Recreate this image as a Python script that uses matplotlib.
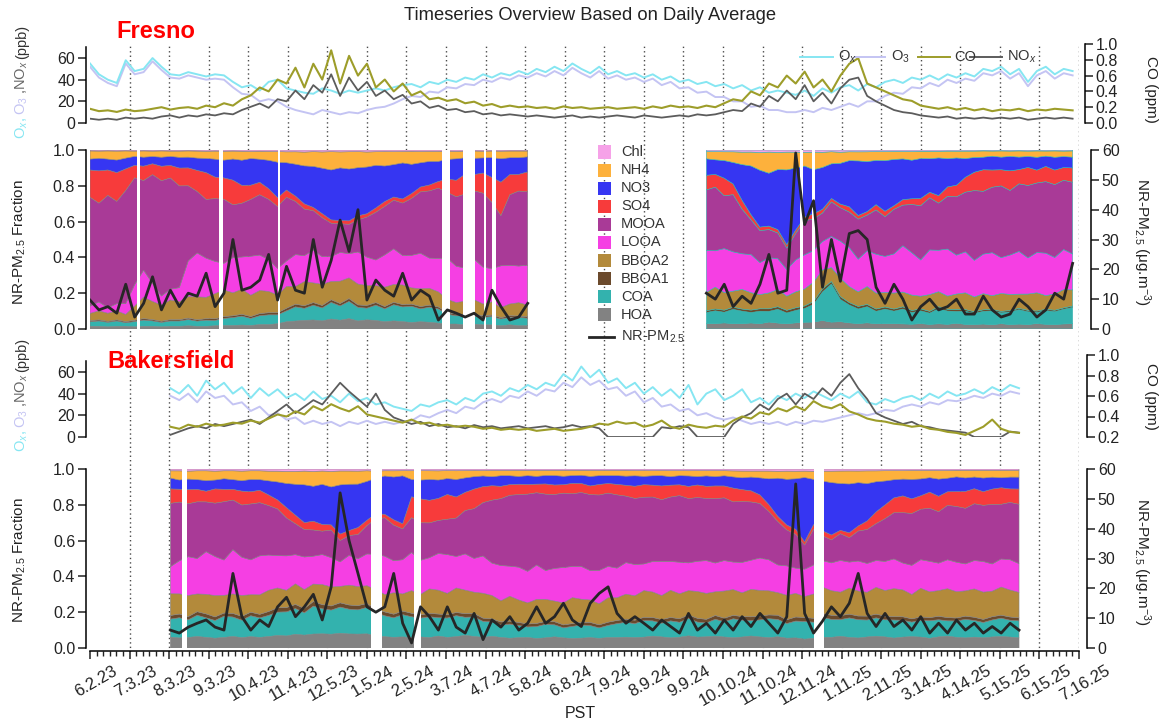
import numpy as np
import matplotlib
matplotlib.use("Agg")
import matplotlib.pyplot as plt
import matplotlib.dates as mdates
from matplotlib.patches import Rectangle
from matplotlib.lines import Line2D
from matplotlib.ticker import FormatStrFormatter
from matplotlib.transforms import ScaledTranslation
import datetime as dt

plt.rcParams['font.family'] = ['Liberation Sans', 'DejaVu Sans']
plt.rcParams['mathtext.fontset'] = 'custom'
plt.rcParams['mathtext.rm'] = 'Liberation Sans'
plt.rcParams['mathtext.it'] = 'Liberation Sans:italic'
plt.rcParams['mathtext.bf'] = 'Liberation Sans:bold'

nan = np.nan
N = 111                      # weekly samples, 2023-06-02 ... 2025-07-11
start_date = '2023-06-02'
end_date = '2025-07-16'

tick_labels = ['6.2.23', '7.3.23', '8.3.23', '9.3.23', '10.4.23', '11.4.23', '12.5.23',
               '1.5.24', '2.5.24', '3.7.24', '4.7.24', '5.8.24', '6.8.24', '7.9.24',
               '8.9.24', '9.9.24', '10.10.24', '11.10.24', '12.11.24', '1.11.25',
               '2.11.25', '3.14.25', '4.14.25', '5.15.25', '6.15.25', '7.16.25']

species = ['HOA', 'COA', 'BBOA1', 'BBOA2', 'LOOA', 'MOOA', 'SO4', 'NO3', 'NH4', 'Chl']

# ---------------- Fresno gases (weekly, k=0..110) ----------------
fresno_ox = [55, 45, 40, 37, 58, 48, 50, 60, 52, 45,
             44, 47, 45, 43, 45, 44, 38, 33, 35, 30,
             38, 40, 32, 30, 28, 27, 32, 30, 27, 30,
             28, 30, 32, 30, 33, 35, 36, 33, 38, 36,
             40, 38, 42, 40, 45, 42, 46, 44, 48, 45,
             50, 47, 52, 48, 55, 50, 46, 52, 45, 48,
             44, 46, 42, 45, 40, 43, 38, 40, 36, 38,
             34, 36, 32, 35, 30, 33, 28, 30, 28, 26,
             30, 25, 32, 28, 33, 35, 30, 36, 33, 38,
             40, 37, 42, 40, 44, 40, 45, 42, 46, 43,
             50, 48, 52, 45, 50, 38, 48, 52, 45, 50,
             48]
fresno_o3 = [52, 42, 37, 34, 55, 45, 47, 57, 49, 42,
             41, 44, 42, 40, 41, 40, 33, 27, 26, 20,
             22, 20, 15, 12, 10, 8, 12, 10, 8, 10,
             9, 12, 14, 15, 18, 22, 25, 24, 29, 28,
             33, 32, 36, 35, 40, 38, 42, 40, 44, 42,
             46, 43, 48, 44, 51, 46, 42, 48, 41, 44,
             40, 42, 38, 41, 35, 38, 32, 33, 28, 29,
             24, 24, 20, 20, 15, 16, 12, 12, 10, 10,
             12, 10, 14, 12, 15, 18, 15, 20, 20, 25,
             28, 27, 33, 32, 37, 34, 40, 37, 41, 39,
             46, 44, 48, 41, 46, 34, 44, 48, 41, 46,
             44]
fresno_co = [.18, .15, .16, .14, .17, .15, .16, .18, .2, .17,
             .19, .2, .18, .22, .2, .25, .22, .3, .35, .45,
             .4, .55, .5, .7, .45, .75, .55, .92, .5, .85,
             .6, .75, .45, .55, .4, .5, .35, .4, .3, .32,
             .28, .3, .25, .27, .22, .24, .2, .22, .2, .21,
             .19, .2, .18, .21, .19, .2, .18, .19, .2, .18,
             .19, .2, .18, .21, .19, .22, .2, .21, .19, .22,
             .2, .25, .3, .28, .4, .35, .5, .45, .6, .5,
             .65, .45, .55, .4, .6, .75, .82, .5, .45, .4,
             .35, .3, .28, .22, .2, .18, .2, .17, .19, .16,
             .18, .15, .17, .16, .18, .15, .17, .16, .18, .17,
             .16]
fresno_nox = [4, 3, 4, 3, 5, 4, 5, 4, 6, 7,
              5, 7, 6, 8, 7, 9, 8, 12, 15, 18,
              14, 22, 20, 30, 22, 35, 28, 45, 25, 42,
              30, 38, 25, 30, 22, 26, 18, 20, 14, 16,
              12, 13, 10, 11, 8, 9, 7, 8, 7, 6,
              7, 6, 5, 6, 7, 5, 6, 5, 6, 7,
              6, 5, 7, 6, 5, 6, 7, 6, 8, 7,
              8, 10, 12, 11, 18, 15, 25, 20, 30, 22,
              35, 20, 28, 18, 32, 40, 42, 25, 20, 16,
              12, 10, 9, 7, 6, 5, 6, 4, 5, 4,
              5, 4, 5, 4, 5, 3, 4, 5, 4, 5,
              4]

# ---------------- Fresno aerosol fractions: block A (k=0..49), block B (k=69..110) ----------------
fr_hoa_a = [.015, .015, .012, .015, .015, .012, .015, .015, .012, .015,
            .015, .018, .015, .015, .018, .02, .02, .022, .02, .025,
            .025, .03, .04, .045, .05, .055, .05, .06, .055, .06,
            .05, .055, .05, .045, .05, .045, .04, .045, .04, .035,
            .03, .03, .025, .03, .025, .025, .02, .025, .02, .02]
fr_coa_a = [.025, .03, .025, .03, .02, .03, .035, .03, .025, .03,
            .03, .035, .03, .035, .03, .04, .045, .05, .04, .05,
            .055, .05, .06, .08, .07, .09, .08, .1, .09, .1,
            .085, .07, .09, .08, .1, .09, .1, .08, .09, .085,
            .06, .05, .055, .05, .045, .05, .04, .045, .05, .045]
fr_bb1_a = [.006, .006, .005, .006, .006, .007, .008, .007, .006, .007,
            .007, .008, .008, .008, .009, .01, .01, .01, .01, .012,
            .012, .012, .014, .015, .015, .016, .015, .016, .015, .016,
            .015, .016, .015, .014, .015, .014, .013, .014, .012, .012,
            .01, .01, .009, .01, .009, .009, .008, .009, .008, .008]
fr_bb2_a = [.04, .05, .045, .05, .04, .08, .12, .1, .09, .11,
            .1, .12, .13, .12, .14, .15, .13, .14, .12, .13,
            .12, .1, .12, .1, .14, .12, .13, .11, .14, .12,
            .13, .12, .1, .12, .11, .12, .1, .11, .1, .09,
            .08, .07, .08, .09, .07, .08, .06, .07, .08, .07]
fr_looa_a = [.04, .05, .03, .04, .06, .12, .15, .1, .05, .06,
             .08, .2, .25, .22, .18, .15, .2, .18, .22, .2,
             .18, .15, .14, .18, .15, .2, .17, .15, .18, .14,
             .2, .17, .15, .2, .22, .18, .2, .22, .18, .2,
             .25, .22, .2, .25, .22, .2, .25, .23, .22, .24]
fr_mooa_a = [.6, .55, .62, .57, .63, .6, .5, .6, .64, .62,
             .57, .42, .35, .33, .35, .36, .3, .3, .32, .34,
             .34, .35, .35, .3, .27, .24, .24, .2, .18, .17,
             .2, .24, .28, .3, .3, .32, .35, .38, .4, .42,
             .4, .42, .45, .42, .44, .4, .3, .42, .45, .44]
fr_so4_a = [.15, .18, .14, .16, .12, .07, .08, .06, .08, .07,
            .1, .1, .12, .15, .12, .12, .14, .1, .08, .07,
            .06, .05, .04, .03, .03, .02, .025, .02, .02, .02,
            .025, .02, .025, .03, .02, .025, .03, .03, .035, .04,
            .08, .1, .12, .1, .12, .15, .2, .12, .1, .12]
fr_no3_a = [.06, .07, .06, .07, .06, .05, .05, .04, .05, .05,
            .06, .06, .07, .08, .1, .1, .12, .14, .15, .13,
            .16, .2, .15, .18, .22, .25, .28, .3, .33, .3,
            .3, .28, .25, .22, .2, .22, .18, .15, .14, .12,
            .12, .13, .1, .1, .09, .12, .14, .1, .1, .09]
fr_nh4_a = [.045, .04, .045, .05, .04, .03, .035, .03, .035, .03,
            .035, .035, .04, .04, .045, .05, .045, .05, .04, .045,
            .05, .06, .06, .07, .08, .09, .1, .11, .1, .1,
            .1, .09, .08, .09, .08, .07, .08, .07, .06, .06,
            .05, .045, .04, .045, .04, .04, .045, .04, .04, .035]
fr_chl_a = [.005, .006, .005, .006, .005, .006, .005, .006, .005, .006,
            .006, .005, .006, .007, .006, .007, .006, .007, .008, .007,
            .008, .009, .01, .01, .012, .01, .012, .01, .012, .01,
            .01, .012, .01, .009, .01, .009, .008, .009, .008, .008,
            .007, .008, .007, .006, .007, .006, .007, .006, .006, .006]

fr_hoa_b = [.03, .03, .035, .03, .03, .035, .03, .04, .035, .03,
            .035, .04, .04, .045, .04, .04, .035, .03, .035, .03,
            .03, .03, .028, .025, .03, .025, .028, .025, .03, .025,
            .025, .028, .025, .03, .025, .028, .025, .03, .028, .025,
            .028, .03]
fr_coa_b = [.06, .07, .06, .08, .07, .06, .07, .06, .08, .06,
            .07, .08, .1, .15, .22, .12, .1, .08, .09, .07,
            .08, .07, .08, .06, .07, .06, .08, .07, .06, .07,
            .06, .07, .08, .06, .07, .08, .07, .06, .08, .07,
            .08, .09]
fr_bb1_b = [.01, .01, .012, .012, .012, .014, .014, .015, .015, .015,
            .015, .015, .016, .016, .015, .015, .014, .014, .013, .013,
            .012, .012, .012, .011, .011, .01, .01, .01, .01, .009,
            .009, .009, .008, .008, .008, .008, .008, .008, .008, .008,
            .008, .008]
fr_bb2_b = [.1, .12, .1, .09, .11, .1, .08, .09, .1, .08,
            .09, .1, .11, .1, .08, .1, .09, .08, .1, .09,
            .08, .09, .08, .08, .07, .09, .08, .07, .08, .09,
            .08, .09, .08, .1, .09, .08, .09, .1, .08, .09,
            .1, .09]
fr_looa_b = [.23, .2, .25, .22, .2, .22, .18, .2, .18, .15,
             .18, .2, .18, .15, .18, .2, .22, .18, .2, .22,
             .2, .22, .25, .22, .2, .24, .22, .25, .2, .22,
             .2, .22, .25, .2, .22, .24, .2, .22, .25, .2,
             .22, .2]
fr_mooa_b = [.33, .35, .3, .32, .25, .2, .18, .16, .15, .12,
             .15, .2, .18, .15, .2, .18, .2, .22, .2, .25,
             .22, .25, .22, .25, .3, .28, .25, .28, .3, .32,
             .38, .35, .38, .4, .36, .38, .4, .38, .42, .4,
             .38, .4]
fr_so4_b = [.08, .07, .1, .06, .05, .03, .02, .02, .02, .02,
            .02, .02, .03, .02, .02, .02, .03, .02, .02, .03,
            .03, .02, .03, .03, .04, .03, .04, .05, .06, .08,
            .1, .12, .1, .09, .11, .08, .1, .07, .09, .08,
            .07, .08]
fr_no3_b = [.09, .08, .1, .12, .2, .28, .32, .3, .35, .42,
            .35, .3, .25, .22, .2, .22, .26, .3, .28, .25,
            .28, .26, .22, .2, .22, .18, .2, .15, .14, .1,
            .08, .07, .08, .07, .08, .07, .06, .07, .06, .07,
            .06, .06]
fr_nh4_b = [.04, .045, .05, .06, .07, .08, .1, .12, .1, .1,
            .09, .08, .1, .08, .07, .06, .05, .05, .055, .05,
            .05, .045, .04, .045, .04, .04, .035, .04, .035, .04,
            .035, .035, .03, .035, .03, .035, .03, .035, .03, .035,
            .03, .035]
fr_chl_b = [.008, .009, .01, .01, .012, .012, .014, .012, .014, .012,
            .012, .014, .012, .012, .01, .012, .01, .01, .01, .009,
            .009, .008, .008, .008, .007, .007, .007, .006, .006, .006,
            .006, .005, .006, .005, .006, .005, .006, .005, .006, .005,
            .006, .005]

fr_pm_a = [9.7, 6.4, 7.5, 5.3, 15, 4, 8.6, 17.5, 6.4, 13,
           7.5, 12, 11, 18.7, 7.5, 12, 30, 13, 14, 16.4,
           25, 9.7, 21, 13, 12, 30, 14, 23, 36.5, 26,
           40, 9.7, 16.4, 13, 11, 18.7, 9.7, 13, 11, 3,
           6.4, 5.3, 4, 5.3, 3, 13, 7.5, 3, 4, 8.6]
fr_pm_b = [12, 10, 15, 7.5, 11, 8.6, 15, 25, 12, 13,
           59, 35, 43, 14, 30, 16, 32, 33, 30, 14,
           8.6, 15, 10, 3, 7.5, 10, 6.4, 7.5, 10, 5,
           5, 11, 6.4, 4, 5, 10, 7.5, 4, 6.4, 12,
           10, 22]

fresno_gaps = [('2023-07-09', '2023-07-11'), ('2023-09-11', '2023-09-14'),
               ('2023-10-27', '2023-10-29'), ('2024-03-04', '2024-03-10'),
               ('2024-03-20', '2024-03-30'), ('2024-04-06', '2024-04-07'),
               ('2024-04-12', '2024-04-15'), ('2024-12-09', '2024-12-12'),
               ('2024-12-19', '2024-12-21')]

# ---------------- Bakersfield (k=9..104) ----------------
bk_ox = [45, 40, 48, 38, 52, 44, 50, 40, 46, 36,
         45, 38, 44, 36, 40, 34, 42, 35, 38, 32,
         40, 33, 36, 30, 32, 28, 26, 24, 30, 28,
         32, 34, 30, 36, 33, 40, 42, 38, 45, 42,
         48, 44, 50, 47, 58, 52, 65, 55, 62, 50,
         54, 45, 50, 40, 46, 38, 44, 36, 48, 30,
         40, 44, 34, 38, 44, 32, 36, 30, 38, 34,
         40, 36, 42, 38, 34, 40, 36, 42, 32, 30,
         35, 32, 36, 38, 34, 40, 36, 42, 38, 40,
         44, 40, 46, 42, 48, 45]
bk_o3 = [38, 34, 40, 32, 42, 36, 38, 30, 32, 24,
         28, 20, 22, 16, 18, 12, 15, 12, 14, 10,
         14, 12, 15, 12, 14, 12, 14, 15, 20, 18,
         22, 25, 22, 28, 26, 32, 35, 32, 38, 36,
         42, 38, 44, 42, 50, 46, 55, 48, 52, 44,
         46, 38, 42, 32, 36, 28, 30, 24, 26, 20,
         22, 18, 16, 18, 15, 12, 14, 12, 14, 11,
         14, 12, 15, 14, 16, 18, 20, 22, 20, 22,
         25, 24, 28, 30, 28, 32, 30, 34, 33, 35,
         38, 36, 40, 38, 42, 40]
bk_nox = [2, 5, 8, 10, 8, 12, 10, 12, 14, 16,
          12, 18, 24, 30, 22, 28, 34, 30, 40, 50,
          42, 35, 28, 40, 25, 18, 15, 12, 14, 10,
          12, 9, 10, 8, 11, 9, 10, 8, 9, 10,
          8, 9, 10, 8, 9, 11, 9, 10, 8, 0,
          0, 0, 0, 0, 0, 9, 8, 10, 9, 0,
          0, 0, 0, 12, 18, 22, 30, 25, 35, 40,
          30, 40, 35, 45, 38, 50, 58, 45, 35, 22,
          18, 15, 12, 14, 10, 9, 7, 6, 5, 4,
          0, 0, 0, 0, 5, 4]
bk_co = [.3, .28, .32, .3, .33, .31, .32, .34, .33, .36,
         .34, .38, .42, .4, .45, .42, .5, .46, .52, .48,
         .45, .5, .42, .4, .38, .36, .34, .37, .33, .34,
         .31, .32, .3, .31, .3, .28, .29, .27, .28, .27,
         .28, .26, .27, .28, .26, .27, .28, .3, .33, .32,
         .35, .33, .34, .3, .32, .36, .3, .28, .32, .3,
         .29, .31, .3, .36, .4, .38, .44, .42, .48, .45,
         .5, .46, .55, .5, .48, .52, .45, .42, .38, .36,
         .35, .33, .32, .3, .31, .28, .27, .25, .24, .22,
         .26, .3, .37, .28, .25, .24]

bk_hoa = [.06, .055, .06, .065, .06, .055, .06, .065, .06, .065,
          .06, .065, .07, .07, .08, .075, .08, .085, .08, .09,
          .085, .08, .08, .07, .065, .06, .065, .06, .065, .06,
          .065, .06, .065, .07, .065, .06, .065, .06, .055, .06,
          .06, .055, .06, .065, .06, .055, .06, .06, .055, .06,
          .06, .065, .06, .065, .07, .065, .06, .065, .07, .065,
          .065, .07, .065, .06, .065, .07, .065, .06, .065, .06,
          .06, .055, .06, .065, .065, .07, .065, .06, .065, .07,
          .065, .06, .065, .07, .065, .06, .065, .07, .065, .06,
          .065, .06, .065, .07, .065, .06]
bk_coa = [.1, .11, .1, .12, .11, .1, .12, .11, .1, .12,
          .11, .12, .13, .14, .15, .13, .16, .15, .14, .16,
          .15, .14, .15, .13, .12, .11, .13, .12, .11, .12,
          .1, .11, .12, .1, .11, .09, .08, .07, .08, .07,
          .06, .07, .08, .07, .06, .07, .08, .07, .06, .07,
          .08, .09, .08, .1, .09, .08, .1, .09, .1, .09,
          .08, .1, .09, .11, .1, .09, .1, .11, .1, .09,
          .1, .11, .1, .12, .11, .1, .12, .11, .1, .11,
          .1, .11, .1, .09, .1, .11, .1, .09, .1, .11,
          .1, .09, .1, .11, .1, .1]
bk_bb1 = [.02, .02, .018, .02, .022, .02, .018, .02, .022, .02,
          .02, .022, .024, .025, .024, .025, .026, .025, .024, .026,
          .025, .024, .022, .02, .022, .02, .021, .02, .019, .02,
          .02, .019, .018, .02, .019, .018, .017, .018, .017, .018,
          .017, .018, .017, .018, .017, .016, .017, .018, .017, .018,
          .018, .019, .02, .019, .02, .021, .02, .021, .02, .022,
          .021, .022, .021, .02, .021, .022, .023, .022, .024, .023,
          .024, .025, .024, .023, .025, .024, .023, .022, .023, .022,
          .021, .02, .021, .02, .02, .019, .02, .019, .018, .019,
          .019, .018, .019, .018, .019, .018]
bk_bb2 = [.12, .11, .12, .1, .11, .12, .1, .11, .12, .1,
          .11, .12, .11, .1, .12, .11, .1, .12, .11, .1,
          .12, .11, .1, .11, .1, .12, .1, .13, .12, .14,
          .13, .12, .14, .13, .12, .14, .13, .12, .14, .13,
          .12, .14, .13, .12, .13, .15, .14, .13, .12, .14,
          .13, .15, .14, .16, .15, .14, .16, .15, .14, .16,
          .15, .14, .16, .15, .14, .16, .15, .14, .13, .15,
          .14, .13, .15, .16, .15, .14, .16, .15, .14, .16,
          .15, .17, .16, .15, .17, .16, .15, .17, .16, .15,
          .17, .16, .15, .17, .16, .15]
bk_looa = [.15, .18, .22, .2, .24, .22, .2, .25, .22, .2,
           .22, .2, .18, .2, .17, .19, .16, .18, .17, .15,
           .18, .16, .18, .2, .22, .18, .2, .22, .2, .18,
           .2, .22, .18, .2, .19, .21, .18, .2, .17, .19,
           .18, .2, .17, .19, .21, .18, .2, .17, .19, .18,
           .17, .19, .18, .16, .18, .2, .17, .19, .16, .18,
           .19, .17, .18, .16, .18, .17, .19, .18, .16, .18,
           .15, .17, .18, .16, .17, .19, .16, .18, .17, .16,
           .17, .18, .16, .18, .17, .19, .16, .17, .18, .16,
           .17, .18, .16, .17, .18, .17]
bk_mooa = [.35, .32, .3, .32, .28, .3, .33, .28, .3, .32,
           .3, .28, .26, .22, .18, .16, .15, .14, .16, .13,
           .12, .14, .16, .2, .22, .2, .18, .2, .22, .2,
           .18, .2, .22, .24, .28, .3, .35, .38, .4, .42,
           .44, .42, .45, .43, .44, .42, .45, .44, .43, .42,
           .42, .4, .38, .4, .38, .36, .38, .4, .37, .38,
           .36, .38, .37, .35, .36, .34, .32, .28, .25, .22,
           .2, .15, .22, .15, .14, .16, .15, .18, .2, .22,
           .25, .28, .3, .32, .3, .33, .3, .32, .34, .33,
           .34, .33, .35, .33, .34, .35]
bk_so4 = [.08, .07, .08, .07, .06, .08, .07, .06, .08, .07,
          .07, .06, .05, .06, .05, .04, .05, .04, .03, .04,
          .03, .04, .03, .03, .02, .03, .03, .12, .14, .13,
          .12, .14, .12, .1, .11, .09, .08, .07, .06, .06,
          .055, .05, .06, .055, .05, .06, .055, .05, .06, .055,
          .06, .065, .07, .075, .07, .08, .07, .065, .07, .075,
          .07, .075, .07, .08, .07, .065, .05, .04, .03, .03,
          .03, .02, .03, .03, .03, .02, .03, .03, .05, .07,
          .08, .09, .1, .09, .08, .1, .09, .08, .09, .1,
          .09, .08, .09, .1, .08, .09]
bk_no3 = [.06, .05, .06, .055, .06, .05, .06, .055, .06, .07,
          .06, .08, .1, .14, .18, .22, .2, .24, .22, .3,
          .28, .25, .22, .2, .22, .24, .28, .1, .11, .12,
          .1, .09, .1, .08, .07, .06, .05, .06, .05, .045,
          .05, .045, .05, .055, .05, .045, .05, .055, .05, .045,
          .05, .055, .06, .05, .055, .06, .05, .055, .06, .05,
          .06, .055, .06, .065, .07, .08, .1, .15, .22, .28,
          .3, .4, .28, .3, .32, .28, .3, .26, .22, .18,
          .14, .11, .1, .12, .1, .09, .1, .08, .09, .08,
          .07, .08, .07, .06, .07, .07]
bk_nh4 = [.04, .05, .045, .05, .055, .05, .045, .05, .055, .05,
          .05, .055, .06, .07, .075, .08, .085, .08, .09, .085,
          .08, .075, .06, .04, .03, .035, .03, .05, .055, .05,
          .05, .045, .05, .04, .035, .03, .035, .03, .03, .035,
          .03, .035, .03, .03, .035, .03, .03, .035, .03, .03,
          .03, .035, .03, .035, .03, .03, .035, .03, .03, .035,
          .03, .035, .03, .035, .04, .035, .04, .045, .04, .05,
          .045, .04, .05, .06, .07, .075, .08, .07, .075, .065,
          .06, .055, .05, .055, .05, .045, .05, .045, .04, .045,
          .04, .045, .04, .045, .04, .04]
bk_chl = [.01, .01, .012, .01, .01, .012, .01, .01, .012, .01,
          .01, .012, .012, .014, .014, .012, .014, .012, .014, .012,
          .012, .012, .01, .012, .01, .01, .01, .01, .01, .01,
          .01, .009, .01, .009, .008, .009, .008, .008, .008, .008,
          .008, .008, .008, .008, .008, .008, .008, .008, .008, .008,
          .008, .008, .009, .009, .01, .009, .01, .01, .01, .01,
          .01, .01, .01, .011, .012, .012, .012, .012, .013, .013,
          .013, .013, .014, .013, .013, .012, .012, .012, .011, .011,
          .01, .01, .01, .009, .009, .009, .009, .009, .008, .008,
          .008, .008, .008, .008, .008, .008]
bk_pm = [6, 5, 7, 8.3, 9.4, 7, 6, 25, 10.5, 6,
         9.4, 7.2, 13.8, 17, 10.5, 13.8, 18, 9.4, 20.5, 52,
         36, 25, 13.8, 12, 13.8, 25, 8.3, 1.7, 13.8, 10.5,
         6, 13.8, 7, 5, 11.6, 2.8, 9.4, 7, 10.5, 6,
         8.3, 13.8, 8.3, 10.5, 15, 9.4, 7.2, 15, 18.3, 20.5,
         11.6, 8.3, 10.5, 8.3, 6, 9.4, 7.2, 5, 11.6, 6,
         8.3, 5, 9.4, 6, 10.5, 7.2, 11.6, 8.3, 5, 10.5,
         55, 11.6, 5, 9, 13.8, 10.5, 15, 25, 11.6, 7.2,
         11.6, 7.2, 9.4, 6, 10.5, 5, 8.3, 5, 9.4, 6,
         8.3, 5, 7.2, 5, 8.3, 6]

bk_gaps = [('2023-08-13', '2023-08-17'), ('2024-01-08', '2024-01-17'),
           ('2024-02-11', '2024-02-16'), ('2024-12-20', '2024-12-28')]

# ---------------- helpers to place data on the weekly grid ----------------
def fresno_series(a, b):
    assert len(a) == 50 and len(b) == 42, (len(a), len(b))
    return np.array(list(a) + [nan] * 19 + list(b), dtype=float)


def bk_series(v):
    assert len(v) == 96, len(v)
    return np.array([nan] * 9 + list(v) + [nan] * 6, dtype=float)


def full(v):
    assert len(v) == N, len(v)
    return np.array(v, dtype=float)


fr_frac = np.array([fresno_series(fr_hoa_a, fr_hoa_b), fresno_series(fr_coa_a, fr_coa_b),
                    fresno_series(fr_bb1_a, fr_bb1_b), fresno_series(fr_bb2_a, fr_bb2_b),
                    fresno_series(fr_looa_a, fr_looa_b), fresno_series(fr_mooa_a, fr_mooa_b),
                    fresno_series(fr_so4_a, fr_so4_b), fresno_series(fr_no3_a, fr_no3_b),
                    fresno_series(fr_nh4_a, fr_nh4_b), fresno_series(fr_chl_a, fr_chl_b)])
bk_frac = np.array([bk_series(v) for v in
                    [bk_hoa, bk_coa, bk_bb1, bk_bb2, bk_looa, bk_mooa, bk_so4, bk_no3, bk_nh4, bk_chl]])
fr_frac = fr_frac / fr_frac.sum(axis=0)
bk_frac = bk_frac / bk_frac.sum(axis=0)

weeks = np.datetime64(start_date) + np.arange(N) * np.timedelta64(7, 'D')
x = mdates.date2num(weeks)
xmin = mdates.date2num(np.datetime64(start_date))
xmax = mdates.date2num(np.datetime64(end_date))


def parse_tick(s):
    m, d, y = (int(p) for p in s.split('.'))
    return mdates.date2num(dt.date(2000 + y, m, d))


tick_pos = np.array([parse_tick(s) for s in tick_labels])
minor_pos = np.concatenate([np.linspace(a, b, 7)[1:-1] for a, b in zip(tick_pos[:-1], tick_pos[1:])])

# ---------------- styling ----------------
C_OX, C_O3, C_CO, C_NOX = '#86e6f2', '#c4c4f3', '#9d9d2a', '#5c5c5c'
SPEC_COL = ['#828282', '#33b2ae', '#6b4a2c', '#b38a3b', '#f53fe3', '#a93a97',
            '#f73b3b', '#3636f2', '#fdb13c', '#f6a2e8']
PM_COL = '#262626'

W, H = 1162, 727
fig = plt.figure(figsize=(W / 100, H / 100), dpi=100)


def pt(px):
    return px * 72.0 / 100.0


def px_axes(x0, y0, x1, y1):
    return fig.add_axes([x0 / W, 1 - y1 / H, (x1 - x0) / W, (y1 - y0) / H])


X0, X1 = 90, 1079

# dotted guide lines behind everything
bg = px_axes(X0, 45, X1, 652)
bg.set_zorder(-5)
bg.set_xlim(xmin, xmax)
bg.set_ylim(0, 1)
bg.axis('off')
for t in tick_pos[1:]:
    bg.axvline(t, color='#4a4a4a', lw=1.0, ls=(0, (1, 2.2)))


def style_left(ax, bounds, ticks, fmt, offset=4):
    for s in ['top', 'right', 'bottom']:
        ax.spines[s].set_visible(False)
    ax.spines['left'].set_position(('outward', pt(offset)))
    ax.spines['left'].set_bounds(*bounds)
    ax.spines['left'].set_linewidth(1.1)
    ax.set_yticks(ticks)
    ax.yaxis.set_major_formatter(FormatStrFormatter(fmt))
    ax.tick_params(axis='y', direction='out', length=pt(8), width=1.1, labelsize=11.5, pad=2,
                   colors='#222222')
    ax.tick_params(axis='x', bottom=False, labelbottom=False)
    ax.set_facecolor('none')


def style_right(ax, bounds, ticks, fmt, offset):
    for s in ['top', 'left', 'bottom']:
        ax.spines[s].set_visible(False)
    ax.spines['right'].set_position(('outward', pt(offset)))
    ax.spines['right'].set_bounds(*bounds)
    ax.spines['right'].set_linewidth(1.1)
    ax.set_yticks(ticks)
    ax.yaxis.set_major_formatter(FormatStrFormatter(fmt))
    ax.tick_params(axis='y', direction='out', length=pt(8), width=1.1, labelsize=11.5, pad=2,
                   colors='#222222')
    ax.tick_params(axis='x', bottom=False, labelbottom=False)
    ax.set_facecolor('none')


def gas_panel(y0, y1, ylim_l, ylim_r, ox, o3, co, nox, r_bounds, r_ticks, r_off):
    ax = px_axes(X0, y0, X1, y1)
    ax.set_xlim(xmin, xmax)
    ax.set_ylim(*ylim_l)
    ax.plot(x, o3, color=C_O3, lw=1.4)
    ax.plot(x, ox, color=C_OX, lw=1.4)
    ax.plot(x, nox, color=C_NOX, lw=1.3)
    style_left(ax, (0, 70), [0, 20, 40, 60], '%d')
    axr = ax.twinx()
    axr.set_xlim(xmin, xmax)
    axr.set_ylim(*ylim_r)
    axr.plot(x, co, color=C_CO, lw=1.5)
    style_right(axr, r_bounds, r_ticks, '%.1f', r_off)
    return ax, axr


def frac_panel(y0, y1, frac, pm, gaps, r_off, bottom=False):
    ax = px_axes(X0, y0, X1, y1)
    ax.set_xlim(xmin, xmax)
    ax.set_ylim(0, 1)
    ax.stackplot(x, frac, colors=SPEC_COL, linewidth=0.4, edgecolors=SPEC_COL)
    for a, b in gaps:
        ax.axvspan(mdates.date2num(np.datetime64(a)), mdates.date2num(np.datetime64(b)),
                   color='white', lw=0, zorder=3)
    style_left(ax, (0, 1), [0, .2, .4, .6, .8, 1.0], '%.1f')
    axr = ax.twinx()
    axr.set_xlim(xmin, xmax)
    axr.set_ylim(0, 60)
    axr.plot(x, pm, color=PM_COL, lw=2.0)
    style_right(axr, (0, 60), [0, 10, 20, 30, 40, 50, 60], '%d', r_off)
    if bottom:
        ax.spines['bottom'].set_visible(True)
        ax.spines['bottom'].set_position(('outward', pt(3)))
        ax.spines['bottom'].set_linewidth(1.1)
        ax.set_xticks(tick_pos)
        ax.set_xticks(minor_pos, minor=True)
        ax.set_xticklabels(tick_labels)
        ax.tick_params(axis='x', which='major', bottom=True, labelbottom=True, direction='out',
                       length=pt(8), width=1.1, labelsize=12, pad=3, colors='#222222')
        ax.tick_params(axis='x', which='minor', bottom=True, direction='out',
                       length=pt(4.5), width=1.0, colors='#222222')
        for lab in ax.get_xticklabels():
            lab.set_rotation(30)
            lab.set_ha('center')
            lab.set_va('top')
            lab.set_transform(lab.get_transform() + ScaledTranslation(0.06, 0, fig.dpi_scale_trans))
    return ax, axr


# Fresno
gas_panel(44, 123, (0, 73), (0, 1.0), full(fresno_ox), full(fresno_o3), full(fresno_co),
          full(fresno_nox), (0, 1.0), [0, .2, .4, .6, .8, 1.0], 6)
frac_panel(150, 329, fr_frac, fresno_series(fr_pm_a, fr_pm_b), fresno_gaps, 12)
# Bakersfield
gas_panel(355, 437, (0, 75.6), (0.2, 1.0), bk_series(bk_ox), bk_series(bk_o3), bk_series(bk_co),
          bk_series(bk_nox), (0.2, 1.0), [.2, .4, .6, .8, 1.0], 8)
frac_panel(469, 648, bk_frac, bk_series(bk_pm), bk_gaps, 8, bottom=True)

# ---------------- texts ----------------
def ftext(xp, yp, s, **kw):
    return fig.text(xp / W, 1 - yp / H, s, **kw)


ftext(590, 15, 'Timeseries Overview Based on Daily Average', ha='center', va='center',
      fontsize=13.2, color='#222222')
ftext(116, 31.5, 'Fresno', ha='left', va='center', fontsize=17, fontweight='bold', color='#ff0000')
ftext(107, 361, 'Bakersfield', ha='left', va='center', fontsize=17, fontweight='bold', color='#ff0000')
ftext(580, 714, 'PST', ha='center', va='center', fontsize=11.5, color='#222222')

fig.canvas.draw()
renderer = fig.canvas.get_renderer()


def stacked_ylabel(xp, y_bottom, pieces, size=10.5, gap=2):
    y = y_bottom
    for s, col in pieces:
        t = ftext(xp, y, s, rotation=90, ha='center', va='bottom', fontsize=size, color=col)
        bb = t.get_window_extent(renderer)
        y -= bb.height + gap


gas_label = [('O$_x$,', C_OX), ('O$_3$', C_O3), (',NO$_x$', '#666666'), ('(ppb)', '#333333')]
stacked_ylabel(22, 139, gas_label)
stacked_ylabel(22, 452, gas_label)

ftext(19, 242, 'NR-PM$_{2.5}$ Fraction', rotation=90, ha='center', va='center', fontsize=11,
      color='#222222')
ftext(19, 560, 'NR-PM$_{2.5}$ Fraction', rotation=90, ha='center', va='center', fontsize=11,
      color='#222222')
ftext(1151, 89, 'CO (ppm)', rotation=270, ha='center', va='center', fontsize=11, color='#222222')
ftext(1151, 396, 'CO (ppm)', rotation=270, ha='center', va='center', fontsize=11, color='#222222')
pm_lab = 'NR-PM$_{2.5}$ (μg.m$^{-3}$)'
ftext(1142, 242, pm_lab, rotation=270, ha='center', va='center', fontsize=11, color='#222222')
ftext(1142, 562, pm_lab, rotation=270, ha='center', va='center', fontsize=11, color='#222222')

# gas legend
gas_leg = [('O$_x$', C_OX, 800, 833, 838), ('O$_3$', C_O3, 855, 885, 891),
           ('CO', C_CO, 918, 950, 954), ('NO$_x$', C_NOX, 970, 1002, 1007)]
for lab, col, a, b, tx in gas_leg:
    fig.add_artist(Line2D([a / W, b / W], [1 - 57 / H] * 2, transform=fig.transFigure,
                          color=col, lw=1.4))
    ftext(tx, 57, lab, ha='left', va='center', fontsize=10.5, color='#333333')

# species legend
leg_names = species[::-1]
leg_cols = SPEC_COL[::-1]
for i, (nm, col) in enumerate(zip(leg_names, leg_cols)):
    yy = 152 + 18.1 * i
    fig.add_artist(Rectangle((598 / W, 1 - (yy + 6.5) / H), 13 / W, 13 / H,
                             transform=fig.transFigure, facecolor=col, edgecolor='none'))
    ftext(621, yy, nm, ha='left', va='center', fontsize=10.5, color='#333333')
fig.add_artist(Line2D([589 / W, 614 / W], [1 - 337 / H] * 2, transform=fig.transFigure,
                      color=PM_COL, lw=2))
ftext(621, 337, 'NR-PM$_{2.5}$', ha='left', va='center', fontsize=10.5, color='#333333')

fig.savefig('out.png', dpi=100)
